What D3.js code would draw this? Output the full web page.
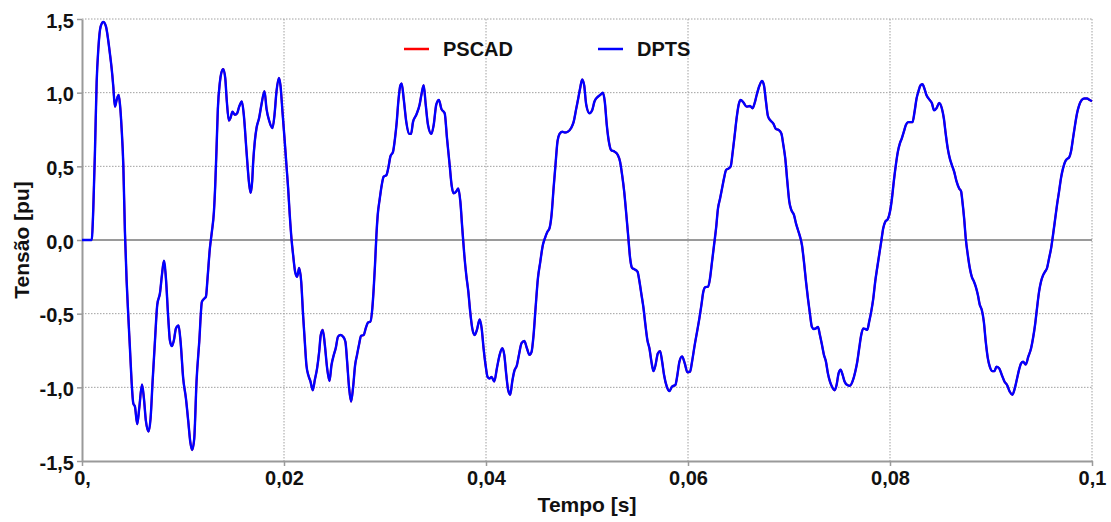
<!DOCTYPE html>
<html>
<head>
<meta charset="utf-8">
<script src="https://cdn.jsdelivr.net/npm/d3@7"></script>
<style>
  html, body { margin: 0; padding: 0; background: #fff; }
  svg { display: block; font-family: "Liberation Sans", Arial, sans-serif; }
</style>
</head>
<body>
<svg id="chart" width="1111" height="522"></svg>
<script>
// ---- data ----
const seriesNames = ["PSCAD", "DPTS"];
const seriesColors = ["#ff0000", "#0000ff"];
const xTickValues = [0, 0.02, 0.04, 0.06, 0.08, 0.1];
const xTickLabels = ["0,", "0,02", "0,04", "0,06", "0,08", "0,1"];
const yTickValues = [-1.5, -1.0, -0.5, 0, 0.5, 1.0, 1.5];
const yTickLabels = ["-1,5", "-1,0", "-0,5", "0,0", "0,5", "1,0", "1,5"];
const xTitle = "Tempo [s]";
const yTitle = "Tensão [pu]";

// time in milliseconds
const timeMs = [
0,0.96,1.12,1.29,1.45,1.62,1.85,2.11,2.37,2.70,3.00,3.10,3.26,3.43,3.63,3.76,3.92,4.09,4.25,4.42,
4.58,4.75,4.91,5.08,5.24,5.47,5.67,5.94,6.13,6.33,6.59,6.79,6.99,7.22,7.45,7.72,7.91,8.11,8.31,8.54,
8.70,8.90,9.10,9.30,9.56,9.76,10.02,10.29,10.52,10.72,10.91,11.11,11.34,11.61,11.87,12.07,12.27,12.43,12.66,12.86,
13.06,13.19,13.32,13.45,13.65,13.78,13.98,14.18,14.34,14.54,14.71,14.90,15.13,15.36,15.56,15.83,16.02,16.29,16.55,16.70,
16.85,16.95,17.11,17.28,17.54,17.77,18.07,18.27,18.53,18.86,19.06,19.26,19.49,19.65,19.85,20.05,20.24,20.41,20.57,20.74,
20.90,21.10,21.30,21.50,21.70,21.89,22.06,22.22,22.42,22.62,22.85,23.05,23.28,23.48,23.64,23.84,24.04,24.27,24.50,24.70,
24.93,25.12,25.35,25.59,25.85,26.08,26.25,26.44,26.64,26.84,27.04,27.23,27.43,27.63,27.89,28.09,28.32,28.55,28.75,28.88,
29.01,29.15,29.28,29.48,29.67,29.87,30.14,30.33,30.53,30.80,30.99,31.16,31.32,31.52,31.65,31.85,32.11,32.38,32.58,32.77,
33.10,33.43,33.60,33.83,34.03,34.26,34.59,34.82,35.08,35.34,35.58,35.91,36.14,36.40,36.60,36.80,37.06,37.26,37.46,37.65,
37.85,38.05,38.25,38.44,38.64,38.87,39.10,39.37,39.57,39.76,39.96,40.16,40.36,40.55,40.82,41.08,41.35,41.61,41.81,42.01,
42.20,42.40,42.60,42.80,43.06,43.26,43.52,43.79,44.05,44.31,44.51,44.71,44.91,45.14,45.37,45.63,45.83,46.09,46.29,46.49,
46.69,46.88,47.08,47.28,47.54,47.81,48.10,48.43,48.67,48.93,49.13,49.32,49.52,49.72,49.92,50.25,50.51,50.74,51.04,51.30,
51.57,51.76,51.96,52.16,52.39,52.72,53.05,53.28,53.48,53.68,53.87,54.07,54.27,54.47,54.73,55.00,55.19,55.39,55.59,55.79,
55.98,56.18,56.38,56.58,56.78,57.01,57.24,57.44,57.63,57.90,58.16,58.42,58.75,58.95,59.15,59.41,59.68,59.94,60.20,60.40,
60.67,60.93,61.13,61.33,61.52,61.72,61.99,62.18,62.38,62.58,62.78,62.97,63.17,63.37,63.57,63.77,64.03,64.23,64.43,64.62,
64.82,65.02,65.22,65.48,65.81,66.14,66.40,66.60,66.80,67.06,67.33,67.52,67.72,67.92,68.18,68.45,68.71,68.98,69.24,69.44,
69.63,69.83,70.03,70.23,70.49,70.69,70.89,71.09,71.28,71.48,71.68,71.88,72.07,72.27,72.47,72.67,72.87,73.06,73.26,73.46,
73.66,73.85,74.05,74.25,74.51,74.71,74.91,75.11,75.31,75.50,75.77,76.03,76.29,76.56,76.76,76.95,77.15,77.35,77.55,77.75,
77.94,78.14,78.34,78.54,78.73,78.93,79.13,79.33,79.53,79.79,79.99,80.19,80.38,80.58,80.78,80.98,81.17,81.37,81.57,81.77,
82.03,82.23,82.43,82.63,82.82,83.02,83.22,83.42,83.61,83.88,84.14,84.37,84.60,84.87,85.13,85.33,85.53,85.72,85.92,86.12,
86.35,86.58,86.85,87.04,87.17,87.34,87.50,87.70,87.90,88.10,88.30,88.49,88.69,88.89,89.09,89.29,89.48,89.68,89.88,90.14,
90.34,90.54,90.80,91.07,91.33,91.59,91.86,92.12,92.38,92.58,92.78,92.98,93.18,93.44,93.70,93.97,94.16,94.36,94.56,94.76,
94.96,95.15,95.35,95.55,95.75,95.95,96.14,96.34,96.54,96.74,96.93,97.13,97.33,97.53,97.73,97.92,98.12,98.32,98.52,98.71,
98.98,99.24,99.51,99.77,100.0
];

// DPTS voltage [pu]
const dptsV = [
0,0,0.215,0.62,1.07,1.30,1.45,1.48,1.45,1.30,1.12,1.04,0.905,0.95,0.984,0.92,0.76,0.51,0.057,-0.28,
-0.51,-0.74,-0.96,-1.11,-1.13,-1.25,-1.14,-0.98,-1.075,-1.23,-1.30,-1.21,-0.96,-0.69,-0.44,-0.36,-0.24,-0.14,-0.26,-0.53,
-0.68,-0.72,-0.68,-0.60,-0.58,-0.69,-0.94,-1.075,-1.23,-1.37,-1.425,-1.35,-0.96,-0.69,-0.42,-0.40,-0.385,-0.26,-0.057,0.057,
0.19,0.37,0.62,0.89,1.07,1.13,1.16,1.10,0.94,0.81,0.83,0.87,0.85,0.86,0.905,0.94,0.85,0.60,0.38,0.32,
0.40,0.53,0.67,0.76,0.83,0.92,1.01,0.89,0.81,0.76,0.85,1.01,1.10,1.05,0.87,0.69,0.51,0.35,0.17,0.01,
-0.10,-0.215,-0.25,-0.19,-0.28,-0.51,-0.69,-0.85,-0.92,-0.96,-1.02,-0.95,-0.87,-0.76,-0.645,-0.61,-0.71,-0.87,-0.957,-0.85,
-0.78,-0.735,-0.656,-0.645,-0.656,-0.69,-0.826,-1.00,-1.097,-1.00,-0.85,-0.78,-0.71,-0.65,-0.645,-0.60,-0.56,-0.554,-0.46,-0.33,
-0.17,0.034,0.17,0.28,0.37,0.43,0.44,0.49,0.566,0.60,0.69,0.80,0.94,1.05,1.063,0.96,0.80,0.72,0.72,0.80,
0.85,0.92,0.984,1.05,0.92,0.78,0.72,0.78,0.92,0.95,0.89,0.86,0.69,0.51,0.37,0.317,0.33,0.35,0.26,0.08,
-0.10,-0.24,-0.35,-0.49,-0.60,-0.645,-0.61,-0.54,-0.60,-0.735,-0.85,-0.93,-0.94,-0.93,-0.96,-0.87,-0.78,-0.735,-0.78,-0.916,
-1.02,-1.05,-0.96,-0.89,-0.85,-0.78,-0.70,-0.686,-0.735,-0.78,-0.76,-0.645,-0.46,-0.26,-0.15,-0.034,0.011,0.057,0.08,0.17,
0.35,0.51,0.67,0.72,0.735,0.73,0.735,0.76,0.80,0.89,0.96,1.03,1.09,1.05,0.92,0.86,0.88,0.94,0.97,0.984,
1.00,0.94,0.78,0.67,0.61,0.60,0.577,0.53,0.44,0.33,0.19,0.034,-0.124,-0.19,-0.20,-0.215,-0.28,-0.37,-0.46,-0.58,
-0.68,-0.735,-0.826,-0.89,-0.85,-0.77,-0.754,-0.826,-0.916,-0.995,-1.025,-0.995,-0.984,-0.916,-0.826,-0.79,-0.837,-0.898,-0.894,-0.826,
-0.71,-0.61,-0.53,-0.44,-0.35,-0.32,-0.317,-0.26,-0.147,-0.034,0.08,0.215,0.28,0.35,0.42,0.475,0.486,0.50,0.60,0.71,
0.83,0.92,0.95,0.934,0.905,0.91,0.894,0.93,0.984,1.045,1.08,1.05,0.94,0.84,0.81,0.79,0.753,0.747,0.724,0.645,
0.554,0.40,0.26,0.204,0.17,0.113,0.068,0.023,-0.034,-0.147,-0.28,-0.40,-0.50,-0.59,-0.604,-0.60,-0.59,-0.645,-0.71,-0.78,
-0.826,-0.905,-0.96,-0.995,-1.02,-0.984,-0.905,-0.88,-0.916,-0.96,-0.984,-0.989,-0.96,-0.894,-0.826,-0.735,-0.645,-0.60,-0.604,-0.61,
-0.554,-0.486,-0.40,-0.28,-0.19,-0.10,-0.011,0.08,0.124,0.143,0.19,0.28,0.40,0.51,0.60,0.656,0.69,0.735,0.78,0.80,
0.80,0.80,0.87,0.96,1.01,1.05,1.057,1.025,0.984,0.955,0.93,0.88,0.894,0.93,0.894,0.826,0.713,0.62,0.554,0.51,
0.464,0.40,0.35,0.33,0.26,0.147,0.011,-0.10,-0.19,-0.25,-0.28,-0.317,-0.37,-0.44,-0.475,-0.554,-0.69,-0.80,-0.86,-0.89,
-0.89,-0.86,-0.87,-0.916,-0.96,-0.984,-1.03,-1.05,-1.00,-0.94,-0.88,-0.837,-0.826,-0.845,-0.79,-0.735,-0.667,-0.577,-0.46,-0.35,
-0.28,-0.24,-0.215,-0.19,-0.124,-0.057,0.034,0.136,0.24,0.33,0.42,0.486,0.53,0.55,0.56,0.60,0.69,0.78,0.86,0.91,
0.95,0.96,0.96,0.95,0.943
];

// PSCAD voltage [pu] – coincides with DPTS at the picture's resolution
const pscadV = dptsV;

// ---- drawing ----
const svg = d3.select("#chart");
const plotLeft = 82, plotRight = 1092, plotTop = 19, plotBottom = 461;

const x = d3.scaleLinear().domain([0, 0.1]).range([plotLeft, plotRight]);
const y = d3.scaleLinear().domain([-1.5, 1.5]).range([plotBottom, plotTop]);

const gridColor = "#a0a0a0";
const axisColor = "#9a9a9a";
const textColor = "#111";

// grid
const grid = svg.append("g");
grid.selectAll("line.gx").data(xTickValues.slice(1)).enter().append("line")
  .attr("x1", d => x(d)).attr("x2", d => x(d))
  .attr("y1", plotTop).attr("y2", plotBottom)
  .attr("stroke", gridColor).attr("stroke-width", 1).attr("stroke-dasharray", "1.5,1.5");
grid.selectAll("line.gy").data(yTickValues.filter(v => v !== 0 && v !== -1.5)).enter().append("line")
  .attr("x1", plotLeft).attr("x2", plotRight)
  .attr("y1", d => y(d)).attr("y2", d => y(d))
  .attr("stroke", gridColor).attr("stroke-width", 1).attr("stroke-dasharray", "1.5,1.5");

// zero line
svg.append("line")
  .attr("x1", plotLeft).attr("x2", plotRight).attr("y1", y(0)).attr("y2", y(0))
  .attr("stroke", axisColor).attr("stroke-width", 2);

// axes using d3 axis
const xAxis = d3.axisBottom(x).tickValues(xTickValues)
  .tickFormat((d, i) => xTickLabels[i]).tickSize(5).tickSizeOuter(0);
const gx = svg.append("g").attr("transform", `translate(0,${plotBottom})`).call(xAxis);
gx.select(".domain").attr("stroke", axisColor).attr("stroke-width", 2);
gx.selectAll(".tick line").attr("stroke", axisColor).attr("stroke-width", 1.5);
gx.selectAll(".tick text").attr("fill", textColor).attr("font-size", 20).attr("font-weight", "bold")
  .attr("font-family", "Liberation Sans, Arial, sans-serif").attr("y", 10).attr("dy", "0.71em");

const yAxis = d3.axisLeft(y).tickValues(yTickValues)
  .tickFormat((d, i) => yTickLabels[i]).tickSize(5).tickSizeOuter(0);
const gy = svg.append("g").attr("transform", `translate(${plotLeft},0)`).call(yAxis);
gy.select(".domain").attr("stroke", axisColor).attr("stroke-width", 2);
gy.selectAll(".tick line").attr("stroke", axisColor).attr("stroke-width", 1.5);
gy.selectAll(".tick text").attr("fill", textColor).attr("font-size", 20).attr("font-weight", "bold")
  .attr("font-family", "Liberation Sans, Arial, sans-serif").attr("x", -8).attr("dy", "0.4em");

// series
const line = d3.line().curve(d3.curveMonotoneX);
const seriesData = [pscadV, dptsV];
const seriesWidths = [2.0, 2.4];
seriesData.forEach((vals, si) => {
  const pts = timeMs.map((t, i) => [x(t / 1000), y(vals[i])]);
  svg.append("path")
    .attr("d", line(pts))
    .attr("fill", "none")
    .attr("stroke", seriesColors[si])
    .attr("stroke-width", seriesWidths[si])
    .attr("stroke-linejoin", "round");
});

// titles
svg.append("text")
  .attr("x", (plotLeft + plotRight) / 2).attr("y", 512)
  .attr("text-anchor", "middle").attr("font-size", 21).attr("font-weight", "bold")
  .attr("fill", textColor).text(xTitle);
svg.append("text")
  .attr("transform", `translate(29,${y(0)}) rotate(-90)`)
  .attr("text-anchor", "middle").attr("font-size", 21).attr("font-weight", "bold")
  .attr("fill", textColor).text(yTitle);

// legend
const legendX = [404, 598];
const legendY = 49;
seriesNames.forEach((name, i) => {
  svg.append("line")
    .attr("x1", legendX[i]).attr("x2", legendX[i] + 25)
    .attr("y1", legendY).attr("y2", legendY)
    .attr("stroke", seriesColors[i]).attr("stroke-width", 2.5);
  svg.append("text")
    .attr("x", legendX[i] + 39).attr("y", legendY + 7)
    .attr("font-size", 20).attr("font-weight", "bold")
    .attr("fill", textColor).text(name);
});
</script>
</body>
</html>
